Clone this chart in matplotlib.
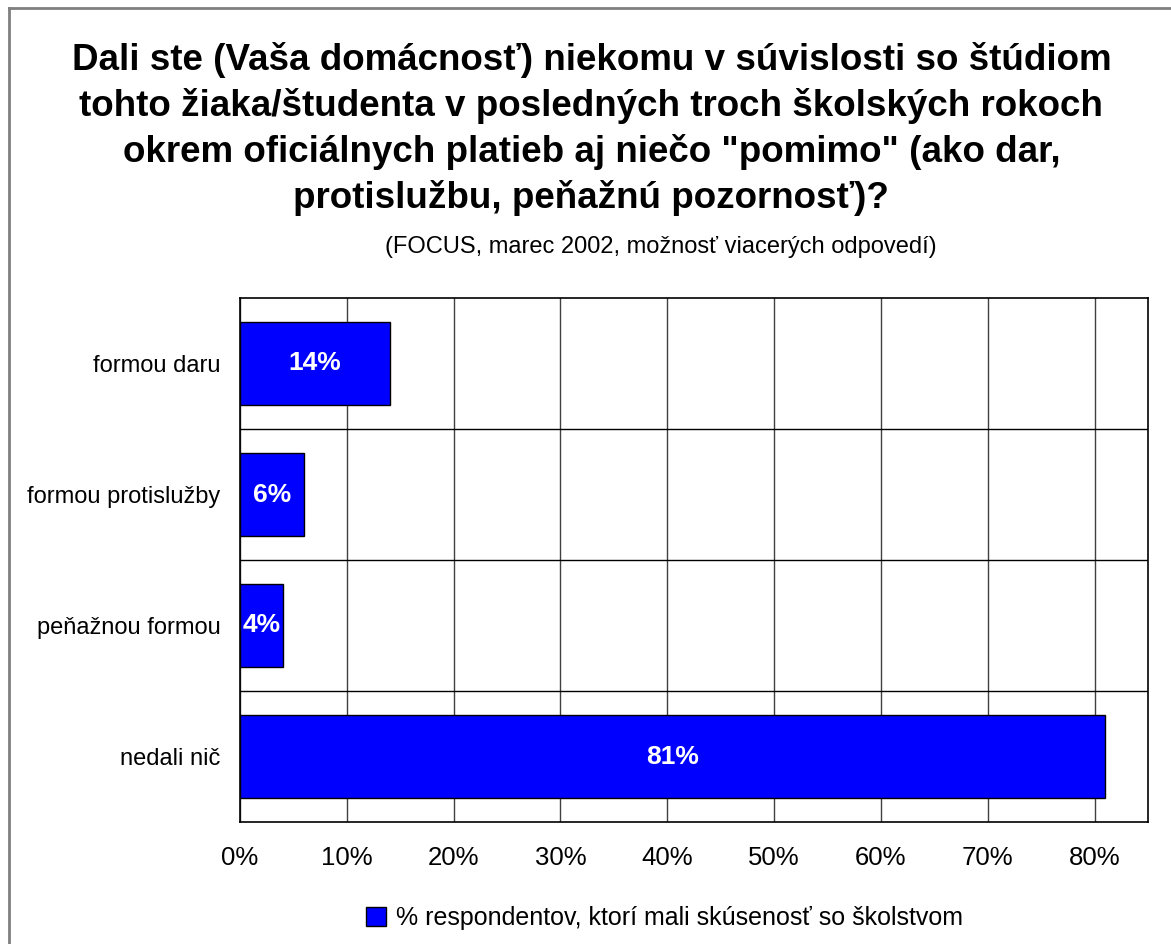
import matplotlib
matplotlib.use("Agg")
import matplotlib.pyplot as plt
from matplotlib.patches import Patch
from matplotlib.lines import Line2D

plt.rcParams['font.family'] = ['Liberation Sans', 'DejaVu Sans']

title_lines = [
    'Dali ste (Vaša domácnosť) niekomu v súvislosti so štúdiom',
    'tohto žiaka/študenta v posledných troch školských rokoch',
    'okrem oficiálnych platieb aj niečo "pomimo" (ako dar,',
    'protislužbu, peňažnú pozornosť)?',
]
subtitle = '(FOCUS, marec 2002, možnosť viacerých odpovedí)'
categories = ['formou daru', 'formou protislužby', 'peňažnou formou', 'nedali nič']
values = [14, 6, 4, 81]
x_ticks = [0, 10, 20, 30, 40, 50, 60, 70, 80]
series_name = '% respondentov, ktorí mali skúsenosť so školstvom'

W, H = 1171, 944
fig = plt.figure(figsize=(W / 100, H / 100), dpi=100)

# outer frame (left and top visible, continues beyond right/bottom)
fig.add_artist(Line2D([9 / W, 9 / W], [0, 1 - 8 / H], transform=fig.transFigure,
                      color='#7f7f7f', lw=2))
fig.add_artist(Line2D([9 / W, 1], [1 - 8 / H, 1 - 8 / H], transform=fig.transFigure,
                      color='#7f7f7f', lw=2))

ax = fig.add_axes([240 / W, 1 - 822 / H, (1148 - 240) / W, (822 - 298) / H])
y = list(range(len(categories)))
bars = ax.barh(y, values, height=0.63, color='#0000FF', edgecolor='black', lw=1, zorder=3)
ax.set_xlim(0, 85)
ax.set_ylim(len(categories) - 0.5, -0.5)
ax.set_xticks(x_ticks)
ax.set_xticklabels([f'{t}%' for t in x_ticks], fontsize=18.5)
ax.set_yticks(y)
ax.set_yticklabels(categories, fontsize=17)
ax.set_yticks([i + 0.5 for i in y[:-1]], minor=True)
ax.tick_params(axis='both', which='both', length=0)
ax.tick_params(axis='x', pad=17)
ax.tick_params(axis='y', pad=14)
ax.grid(axis='x', which='major', color='#404040', lw=1, zorder=0)
ax.grid(axis='y', which='minor', color='#000000', lw=1, zorder=0)
for s in ax.spines.values():
    s.set_color('black')
    s.set_linewidth(1.2)

for b, v in zip(bars, values):
    ax.text(v / 2, b.get_y() + b.get_height() / 2, f'{v}%', ha='center', va='center',
            color='white', fontsize=19, fontweight='bold', zorder=4)

baselines = [70, 116, 162, 208]
for line, bl in zip(title_lines, baselines):
    fig.text(0.505, 1 - bl / H, line, ha='center', va='baseline', fontsize=26.5,
             fontweight='bold')
fig.text(661 / W, 1 - 253 / H, subtitle, ha='center', va='baseline', fontsize=17)

fig.legend(handles=[Patch(facecolor='#0000FF', edgecolor='black', label=series_name)],
           loc='center', bbox_to_anchor=(664 / W, 1 - 918 / H), frameon=False,
           fontsize=18, handlelength=0.8, handleheight=0.8, handletextpad=0.4)

fig.savefig('out.png', dpi=100)
